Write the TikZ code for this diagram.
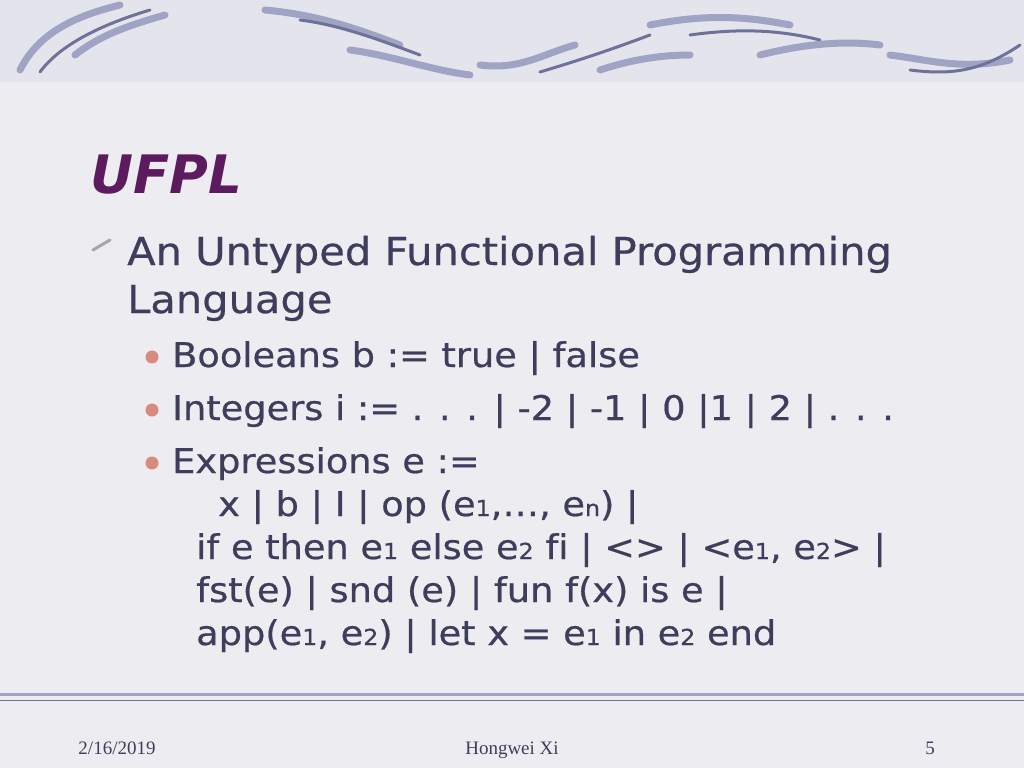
\documentclass[tikz,border=0pt]{standalone}
\usepackage{fontspec}
\setmainfont{Liberation Serif}
\newfontfamily\body[FakeStretch=1.08,FakeBold=0.6,Ligatures=NoCommon]{DejaVu Sans}
\newfontfamily\ttl{DejaVu Sans}
\definecolor{bg}{HTML}{EDEDF1}
\definecolor{band}{HTML}{E4E5EC}
\definecolor{wave}{HTML}{9FA3C4}
\definecolor{waved}{HTML}{6E7299}
\definecolor{txt}{HTML}{3E3E5C}
\definecolor{ttlc}{HTML}{5B1B5E}
\definecolor{dot}{HTML}{D98A7E}
\newcommand{\sbx}[1]{{\fontsize{22}{22}\selectfont #1}}
\tikzset{
  lvA/.style={anchor=base west,inner sep=0pt,text=txt,font=\body\fontsize{38.5}{44}\selectfont},
  lvB/.style={anchor=base west,inner sep=0pt,text=txt,font=\body\fontsize{34}{44}\selectfont},
  foot/.style={anchor=base,inner sep=0pt,text=txt,font=\fontsize{19}{19}\selectfont},
  wv/.style={wave,line width=7pt,line cap=round},
  wvd/.style={waved,line width=3pt,line cap=round},
  bulA/.style={draw=gray!70,line width=3pt,line cap=round},
  bulB/.style={circle,fill=dot,inner sep=0pt,minimum size=13pt}
}
\begin{document}
\begin{tikzpicture}[x=1pt,y=-1pt]
\useasboundingbox (0,0) rectangle (1024,768);
\fill[bg] (0,0) rectangle (1024,768);
\fill[band] (0,0) rectangle (1024,82);
% top waves
\draw[wv] (20,70) .. controls (40,30) and (80,15) .. (120,5);
\draw[wvd] (40,72) .. controls (60,45) and (100,25) .. (150,10);
\draw[wv] (75,55) .. controls (100,35) and (130,25) .. (165,15);
\draw[wv] (265,10) .. controls (320,15) and (360,30) .. (400,45);
\draw[wvd] (300,20) .. controls (340,25) and (380,40) .. (420,55);
\draw[wv] (350,50) .. controls (390,55) and (430,70) .. (470,75);
\draw[wv] (480,65) .. controls (520,70) and (540,55) .. (575,45);
\draw[wvd] (540,72) .. controls (580,60) and (610,50) .. (650,35);
\draw[wv] (600,70) .. controls (630,60) and (660,55) .. (690,55);
\draw[wv] (650,25) .. controls (700,15) and (740,15) .. (790,25);
\draw[wvd] (690,35) .. controls (740,28) and (780,30) .. (820,40);
\draw[wv] (760,55) .. controls (800,45) and (840,40) .. (880,45);
\draw[wv] (890,55) .. controls (930,60) and (960,70) .. (1010,60);
\draw[wvd] (910,70) .. controls (950,75) and (980,72) .. (1020,45);
% bottom rule
\draw[wave,line width=3pt] (0,694) -- (1024,694);
\draw[waved,line width=1pt] (0,700) -- (1024,700);
% title
\node[anchor=base west,inner sep=0pt,text=ttlc,font=\ttl\bfseries\itshape\fontsize{53}{60}\selectfont] (title) at (90,193) {UFPL};
% level 1
\draw[bulA] (93,250) -- (110,240);
\node[lvA] (l1a) at (127,265) {An Untyped Functional Programming};
\node[lvA] (l1b) at (127,313) {Language};
% level 2
\node[bulB] (b1) at (152,357) {};
\node[lvB] (t1) at (172,367) {Booleans b := true | false};
\node[bulB] (b2) at (152,410) {};
\node[lvB] (t2) at (172,420) {Integers i := . . . | -2 | -1 | 0 |1 | 2 | . . .};
\node[bulB] (b3) at (152,463) {};
\node[lvB] (t3) at (172,473) {Expressions e :=};
\node[lvB] (t4) at (196,516) {\hspace{22pt}x | b | I | op (e\sbx{1},…, e\sbx{n}) |};
\node[lvB] (t5) at (196,559) {if e then e\sbx{1} else e\sbx{2} fi | <> | <e\sbx{1}, e\sbx{2}> |};
\node[lvB] (t6) at (196,602) {fst(e) | snd (e) | fun f(x) is e |};
\node[lvB] (t7) at (196,645) {app(e\sbx{1}, e\sbx{2}) | let x = e\sbx{1} in e\sbx{2} end};
% footer
\node[foot] (f1) at (117,754) {2/16/2019};
\node[foot] (f2) at (512,754) {Hongwei Xi};
\node[foot] (f3) at (930,754) {5};
\end{tikzpicture}
\end{document}
